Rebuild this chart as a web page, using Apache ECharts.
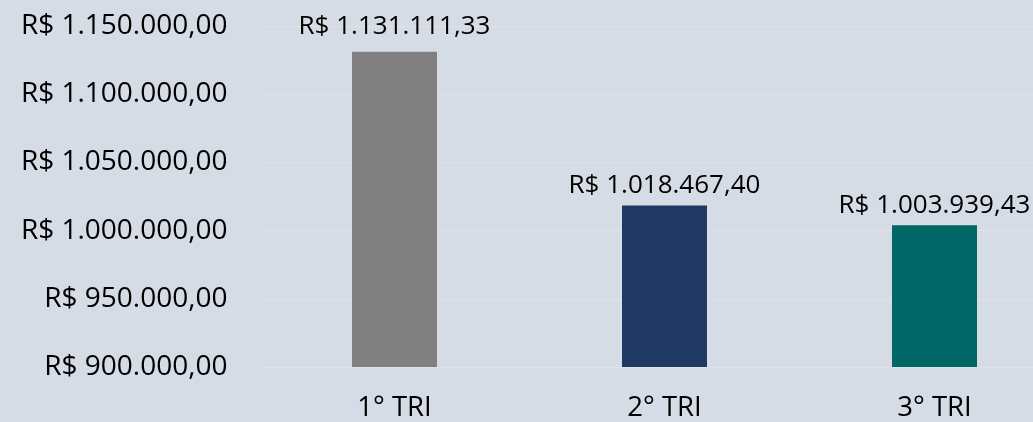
<!DOCTYPE html>
<html><head><meta charset="utf-8">
<script src="https://cdn.jsdelivr.net/npm/echarts@6/dist/echarts.min.js"></script>
<style>html,body{margin:0;padding:0;background:#d6dce5;overflow:hidden;width:1033px;height:422px;}#c{width:1070px;height:422px;}</style>
</head><body><div id="c"></div>
<script>
const categories = ['1° TRI', '2° TRI', '3° TRI'];
const values = [1131111.33, 1018467.40, 1003939.43];
const barColors = ['#808080', '#203864', '#006666'];
const yMin = 900000, yMax = 1150000, yStep = 50000;

function brl(v) {
  const fixed = Math.abs(v).toFixed(2);
  const parts = fixed.split('.');
  const intPart = parts[0].replace(/\B(?=(\d{3})+(?!\d))/g, '.');
  return 'R$ ' + intPart + ',' + parts[1];
}

const FONT = 'Open Sans';
const chart = echarts.init(document.getElementById('c'));
chart.setOption({
  backgroundColor: '#d6dce5',
  animation: false,
  grid: { left: 259.5, width: 810, top: 26, height: 341, containLabel: false },
  xAxis: {
    type: 'category',
    data: categories,
    axisLine: { show: false },
    axisTick: { show: false },
    axisLabel: { color: '#000', fontFamily: FONT, fontSize: 27.5, margin: 27 }
  },
  yAxis: {
    type: 'value',
    min: yMin, max: yMax, interval: yStep,
    axisLine: { show: false },
    axisTick: { show: false },
    splitLine: { show: true, lineStyle: { color: '#e2e2e2', width: 1 } },
    axisLabel: { color: '#000', fontFamily: FONT, fontSize: 28, margin: 32, formatter: brl }
  },
  series: [{
    type: 'bar',
    barWidth: 85,
    data: values.map((v, i) => ({
      value: v,
      itemStyle: { color: barColors[i] },
      label: i === 0 ? { distance: 12 } : undefined
    })),
    label: {
      show: true, position: 'top', distance: 7,
      color: '#000', fontFamily: FONT, fontSize: 26,
      formatter: p => brl(p.value)
    }
  }]
});
</script></body></html>
